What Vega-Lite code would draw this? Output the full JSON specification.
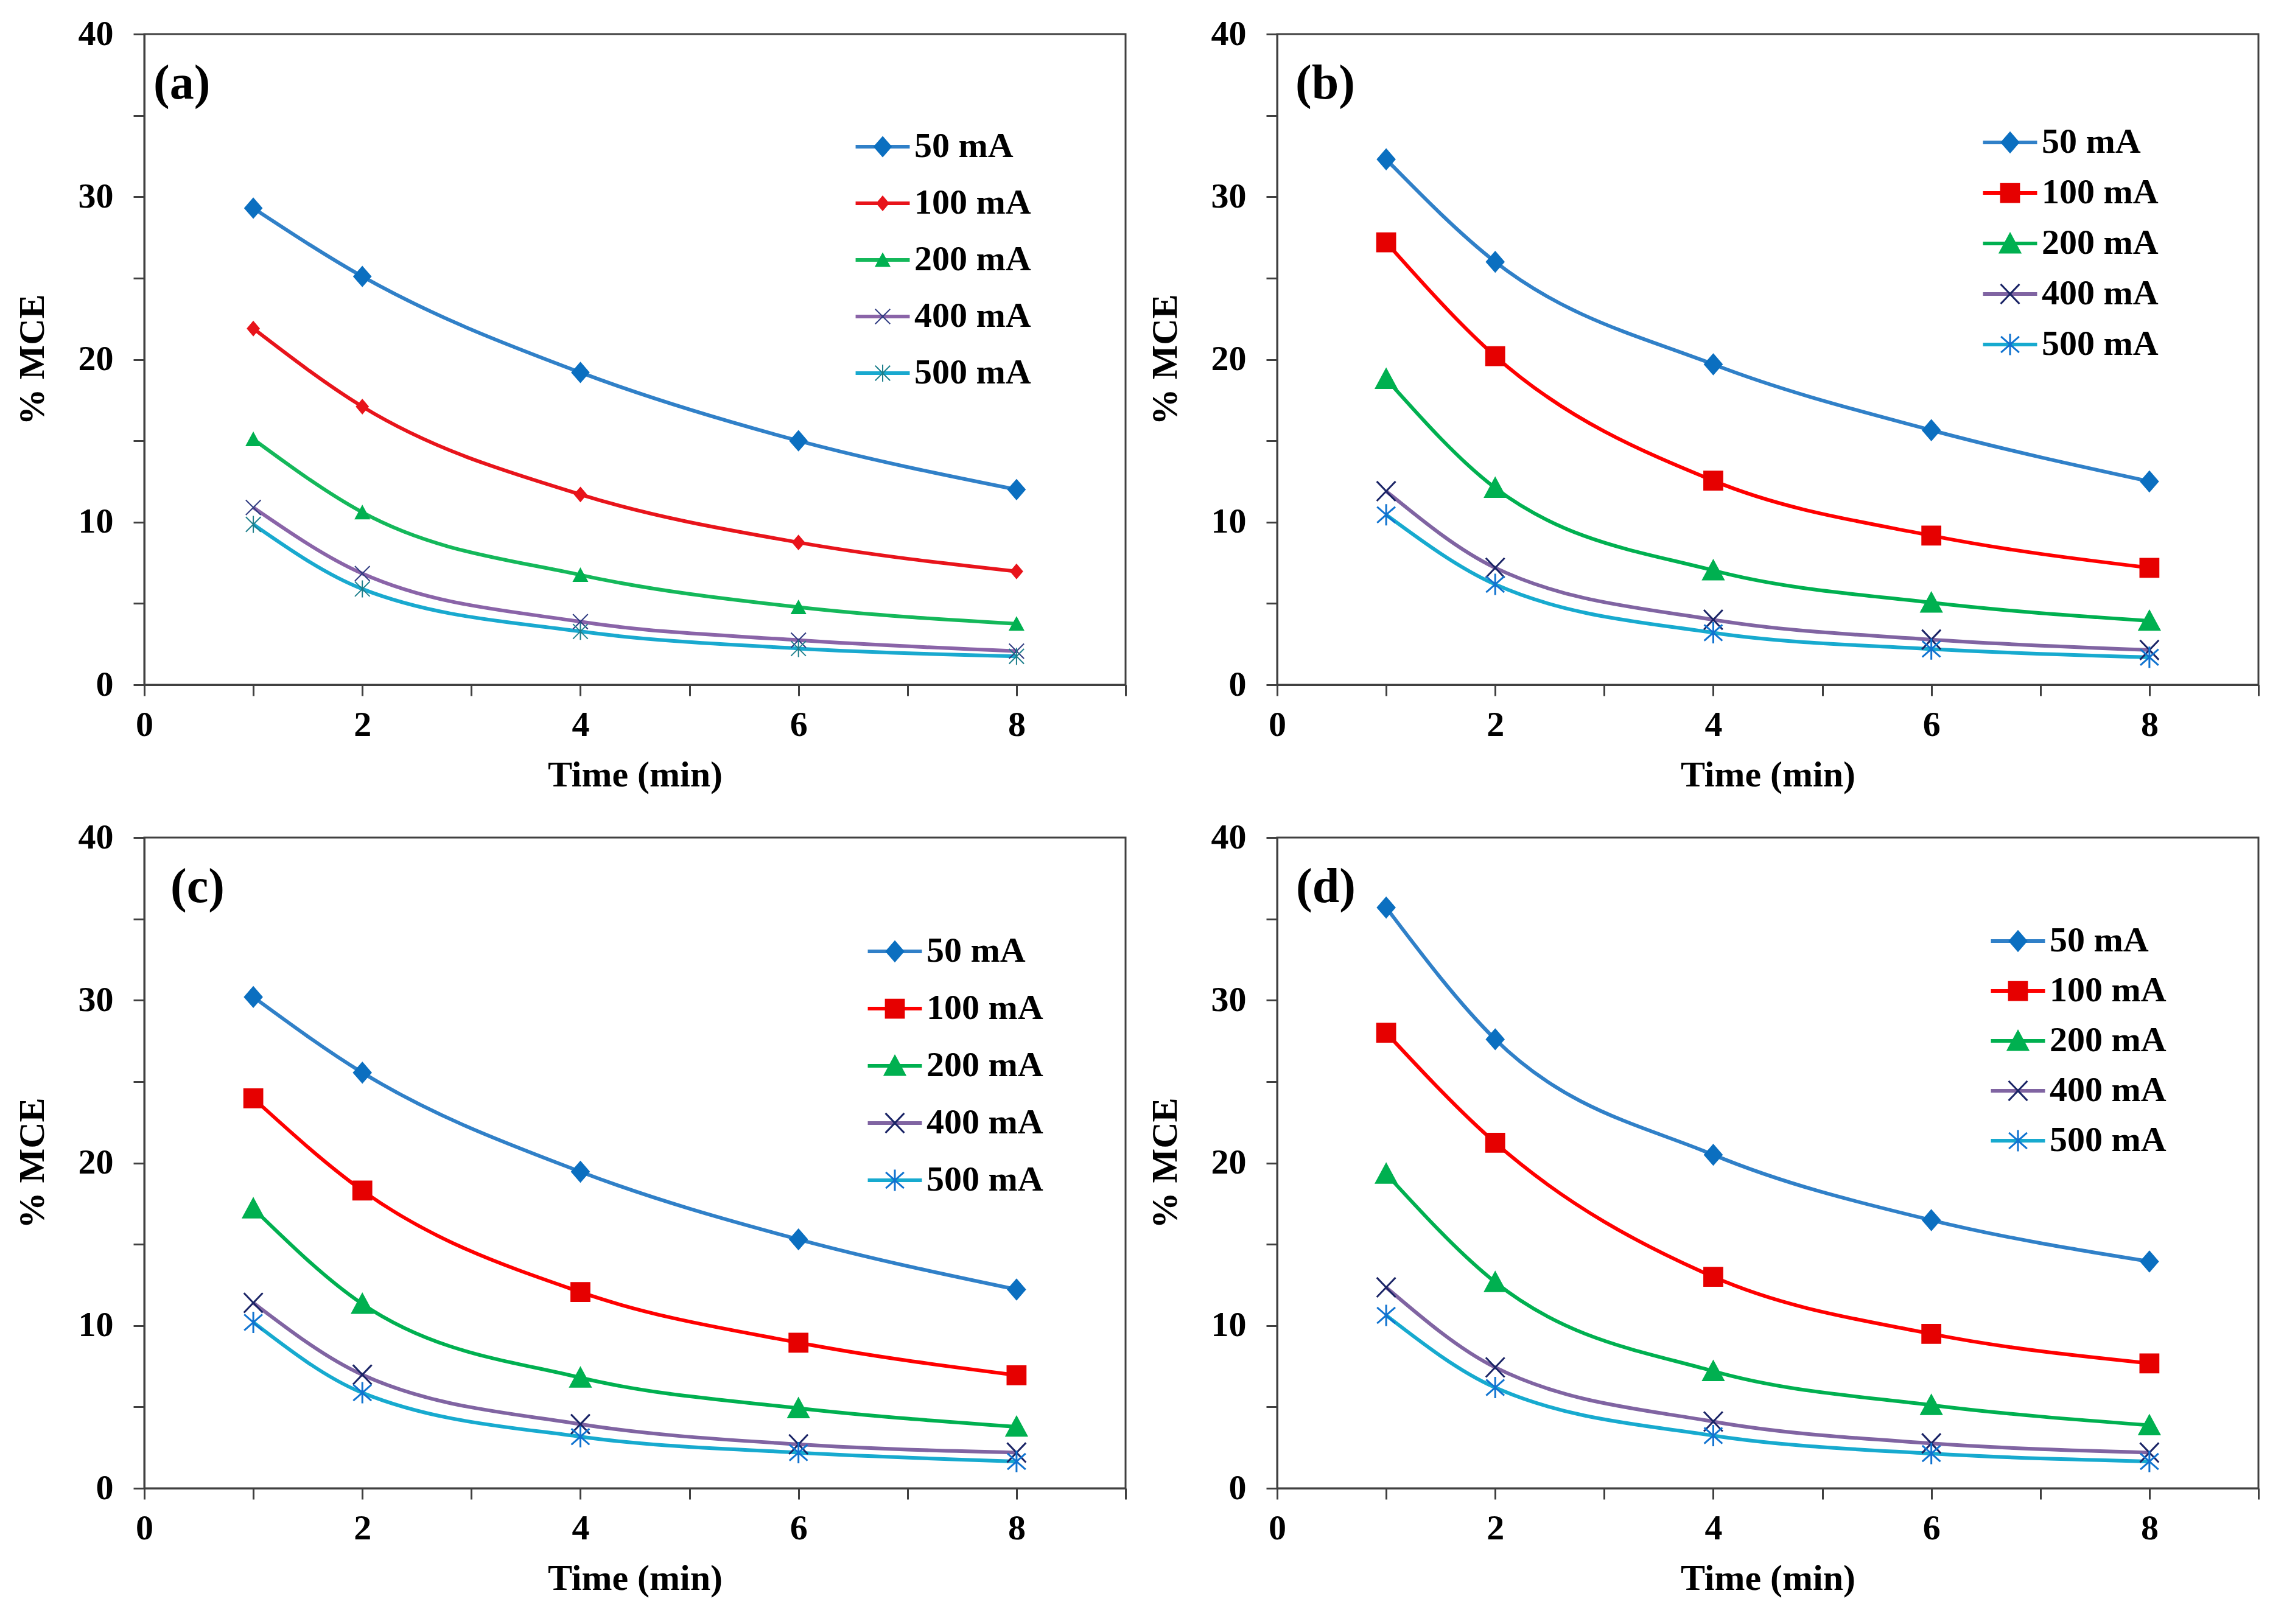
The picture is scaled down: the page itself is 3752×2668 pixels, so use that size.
{
  "$schema": "https://vega.github.io/schema/vega-lite/v6.json",
  "background": "white",
  "padding": {"left": 21, "top": 25, "right": 40, "bottom": 20},
  "columns": 2,
  "spacing": {"row": 251, "column": 249},
  "bounds": "flush",
  "datasets": {
    "a": [
      {"series": "50 mA", "time": 1, "mce": 29.3}, {"series": "50 mA", "time": 2, "mce": 25.1}, {"series": "50 mA", "time": 4, "mce": 19.2}, {"series": "50 mA", "time": 6, "mce": 15.0}, {"series": "50 mA", "time": 8, "mce": 12.0},
      {"series": "100 mA", "time": 1, "mce": 21.9}, {"series": "100 mA", "time": 2, "mce": 17.1}, {"series": "100 mA", "time": 4, "mce": 11.7}, {"series": "100 mA", "time": 6, "mce": 8.75}, {"series": "100 mA", "time": 8, "mce": 6.97},
      {"series": "200 mA", "time": 1, "mce": 15.1}, {"series": "200 mA", "time": 2, "mce": 10.6}, {"series": "200 mA", "time": 4, "mce": 6.75}, {"series": "200 mA", "time": 6, "mce": 4.77}, {"series": "200 mA", "time": 8, "mce": 3.75},
      {"series": "400 mA", "time": 1, "mce": 10.9}, {"series": "400 mA", "time": 2, "mce": 6.84}, {"series": "400 mA", "time": 4, "mce": 3.88}, {"series": "400 mA", "time": 6, "mce": 2.74}, {"series": "400 mA", "time": 8, "mce": 2.07},
      {"series": "500 mA", "time": 1, "mce": 9.86}, {"series": "500 mA", "time": 2, "mce": 5.89}, {"series": "500 mA", "time": 4, "mce": 3.28}, {"series": "500 mA", "time": 6, "mce": 2.23}, {"series": "500 mA", "time": 8, "mce": 1.75}
    ],
    "b": [
      {"series": "50 mA", "time": 1, "mce": 32.3}, {"series": "50 mA", "time": 2, "mce": 26.0}, {"series": "50 mA", "time": 4, "mce": 19.7}, {"series": "50 mA", "time": 6, "mce": 15.65}, {"series": "50 mA", "time": 8, "mce": 12.5},
      {"series": "100 mA", "time": 1, "mce": 27.2}, {"series": "100 mA", "time": 2, "mce": 20.2}, {"series": "100 mA", "time": 4, "mce": 12.55}, {"series": "100 mA", "time": 6, "mce": 9.17}, {"series": "100 mA", "time": 8, "mce": 7.19},
      {"series": "200 mA", "time": 1, "mce": 18.8}, {"series": "200 mA", "time": 2, "mce": 12.1}, {"series": "200 mA", "time": 4, "mce": 7.03}, {"series": "200 mA", "time": 6, "mce": 5.05}, {"series": "200 mA", "time": 8, "mce": 3.93},
      {"series": "400 mA", "time": 1, "mce": 11.9}, {"series": "400 mA", "time": 2, "mce": 7.19}, {"series": "400 mA", "time": 4, "mce": 4.0}, {"series": "400 mA", "time": 6, "mce": 2.78}, {"series": "400 mA", "time": 8, "mce": 2.14},
      {"series": "500 mA", "time": 1, "mce": 10.45}, {"series": "500 mA", "time": 2, "mce": 6.17}, {"series": "500 mA", "time": 4, "mce": 3.2}, {"series": "500 mA", "time": 6, "mce": 2.2}, {"series": "500 mA", "time": 8, "mce": 1.69}
    ],
    "c": [
      {"series": "50 mA", "time": 1, "mce": 30.2}, {"series": "50 mA", "time": 2, "mce": 25.55}, {"series": "50 mA", "time": 4, "mce": 19.46}, {"series": "50 mA", "time": 6, "mce": 15.3}, {"series": "50 mA", "time": 8, "mce": 12.22},
      {"series": "100 mA", "time": 1, "mce": 23.97}, {"series": "100 mA", "time": 2, "mce": 18.3}, {"series": "100 mA", "time": 4, "mce": 12.06}, {"series": "100 mA", "time": 6, "mce": 8.95}, {"series": "100 mA", "time": 8, "mce": 6.95},
      {"series": "200 mA", "time": 1, "mce": 17.2}, {"series": "200 mA", "time": 2, "mce": 11.33}, {"series": "200 mA", "time": 4, "mce": 6.8}, {"series": "200 mA", "time": 6, "mce": 4.92}, {"series": "200 mA", "time": 8, "mce": 3.78},
      {"series": "400 mA", "time": 1, "mce": 11.4}, {"series": "400 mA", "time": 2, "mce": 6.98}, {"series": "400 mA", "time": 4, "mce": 3.94}, {"series": "400 mA", "time": 6, "mce": 2.7}, {"series": "400 mA", "time": 8, "mce": 2.19},
      {"series": "500 mA", "time": 1, "mce": 10.2}, {"series": "500 mA", "time": 2, "mce": 5.87}, {"series": "500 mA", "time": 4, "mce": 3.17}, {"series": "500 mA", "time": 6, "mce": 2.19}, {"series": "500 mA", "time": 8, "mce": 1.65}
    ],
    "d": [
      {"series": "50 mA", "time": 1, "mce": 35.7}, {"series": "50 mA", "time": 2, "mce": 27.6}, {"series": "50 mA", "time": 4, "mce": 20.5}, {"series": "50 mA", "time": 6, "mce": 16.48}, {"series": "50 mA", "time": 8, "mce": 13.94},
      {"series": "100 mA", "time": 1, "mce": 28.0}, {"series": "100 mA", "time": 2, "mce": 21.24}, {"series": "100 mA", "time": 4, "mce": 13.0}, {"series": "100 mA", "time": 6, "mce": 9.49}, {"series": "100 mA", "time": 8, "mce": 7.68},
      {"series": "200 mA", "time": 1, "mce": 19.33}, {"series": "200 mA", "time": 2, "mce": 12.67}, {"series": "200 mA", "time": 4, "mce": 7.2}, {"series": "200 mA", "time": 6, "mce": 5.11}, {"series": "200 mA", "time": 8, "mce": 3.87},
      {"series": "400 mA", "time": 1, "mce": 12.35}, {"series": "400 mA", "time": 2, "mce": 7.43}, {"series": "400 mA", "time": 4, "mce": 4.1}, {"series": "400 mA", "time": 6, "mce": 2.76}, {"series": "400 mA", "time": 8, "mce": 2.19},
      {"series": "500 mA", "time": 1, "mce": 10.63}, {"series": "500 mA", "time": 2, "mce": 6.19}, {"series": "500 mA", "time": 4, "mce": 3.24}, {"series": "500 mA", "time": 6, "mce": 2.13}, {"series": "500 mA", "time": 8, "mce": 1.65}
    ]
  },
  "concat": [
    {
      "width": 1612, "height": 1069,
      "data": {"name": "a"},
      "title": {"text": "(a)", "anchor": "start", "orient": "top", "frame": "group", "offset": -152, "dx": 15, "baseline": "top", "fontSize": 80, "font": "Liberation Serif", "fontWeight": "bold", "color": "black"},
      "encoding": {
        "x": {"field": "time", "type": "quantitative", "title": "Time (min)", "scale": {"domain": [0, 9], "nice": false}, "axis": {"values": [0, 1, 2, 3, 4, 5, 6, 7, 8, 9], "labelExpr": "datum.value % 2 === 0 ? datum.label : ''"}},
        "y": {"field": "mce", "type": "quantitative", "title": "% MCE", "scale": {"domain": [0, 40], "nice": false}, "axis": {"values": [0, 5, 10, 15, 20, 25, 30, 35, 40], "labelExpr": "datum.value % 10 === 0 ? datum.label : ''"}}
      },
      "layer": [
        {
          "mark": {"type": "line", "interpolate": "monotone", "strokeWidth": 6},
          "encoding": {
            "color": {"field": "series", "type": "nominal", "scale": {"domain": ["50 mA", "100 mA", "200 mA", "400 mA", "500 mA"], "range": ["#3080C8", "#E8141B", "#14B85A", "#8A64A8", "#19A9CF"]},
              "legend": {"title": null, "orient": "none", "legendX": 1184, "legendY": 156, "padding": 0, "symbolType": "M-2.54,0H2.54", "symbolSize": 1225, "symbolStrokeWidth": 6, "labelFont": "Liberation Serif", "labelFontWeight": "bold", "labelFontSize": 58, "labelColor": "black", "labelOffset": 23, "labelLimit": 500, "rowPadding": 35}}
          }
        },
        {
          "mark": {"type": "point", "filled": true, "size": 1225, "opacity": 1, "strokeWidth": 2},
          "encoding": {
            "shape": {"field": "series", "type": "nominal", "scale": {"domain": ["50 mA", "100 mA", "200 mA", "400 mA", "500 mA"], "range": ["M-2.54,0M2.54,0M0,-0.92L0.8,0L0,0.92L-0.8,0Z", "M-2.54,0M2.54,0M0,-0.65L0.55,0L0,0.65L-0.55,0Z", "M-2.54,0M2.54,0M0,-0.6L0.65,0.6L-0.65,0.6Z", "M-2.54,0M2.54,0M-0.7,-0.7L0.7,0.7M-0.7,0.7L0.7,-0.7", "M-2.54,0M2.54,0M-0.7,-0.7L0.7,0.7M-0.7,0.7L0.7,-0.7M0,-0.8V0.8"]},
              "legend": {"title": null, "orient": "none", "legendX": 1184, "legendY": 156, "padding": 0, "symbolSize": 1225, "symbolStrokeWidth": 2, "labelFont": "Liberation Serif", "labelFontWeight": "bold", "labelFontSize": 58, "labelOpacity": 0, "labelOffset": 23, "labelLimit": 500, "rowPadding": 35}},
            "fill": {"field": "series", "type": "nominal", "scale": {"domain": ["50 mA", "100 mA", "200 mA", "400 mA", "500 mA"], "range": ["#0B6FC0", "#E8141B", "#00B050", "#2E3A80", "#1E7F8C"]},
              "legend": {"title": null, "orient": "none", "legendX": 1184, "legendY": 156, "padding": 0, "symbolSize": 1225, "symbolStrokeWidth": 2, "labelFont": "Liberation Serif", "labelFontWeight": "bold", "labelFontSize": 58, "labelOpacity": 0, "labelOffset": 23, "labelLimit": 500, "rowPadding": 35}},
            "stroke": {"field": "series", "type": "nominal", "scale": {"domain": ["50 mA", "100 mA", "200 mA", "400 mA", "500 mA"], "range": ["#0B6FC0", "#E8141B", "#00B050", "#2E3A80", "#1E7F8C"]},
              "legend": {"title": null, "orient": "none", "legendX": 1184, "legendY": 156, "padding": 0, "symbolSize": 1225, "symbolStrokeWidth": 2, "labelFont": "Liberation Serif", "labelFontWeight": "bold", "labelFontSize": 58, "labelOpacity": 0, "labelOffset": 23, "labelLimit": 500, "rowPadding": 35}}
          }
        }
      ],
      "resolve": {"legend": {"color": "independent", "shape": "independent", "fill": "independent", "stroke": "independent"}}
    },
    {
      "width": 1612, "height": 1069,
      "data": {"name": "b"},
      "title": {"text": "(b)", "anchor": "start", "orient": "top", "frame": "group", "offset": -152, "dx": 30, "baseline": "top", "fontSize": 80, "font": "Liberation Serif", "fontWeight": "bold", "color": "black"},
      "encoding": {
        "x": {"field": "time", "type": "quantitative", "title": "Time (min)", "scale": {"domain": [0, 9], "nice": false}, "axis": {"values": [0, 1, 2, 3, 4, 5, 6, 7, 8, 9], "labelExpr": "datum.value % 2 === 0 ? datum.label : ''"}},
        "y": {"field": "mce", "type": "quantitative", "title": "% MCE", "scale": {"domain": [0, 40], "nice": false}, "axis": {"values": [0, 5, 10, 15, 20, 25, 30, 35, 40], "labelExpr": "datum.value % 10 === 0 ? datum.label : ''"}}
      },
      "layer": [
        {
          "mark": {"type": "line", "interpolate": "monotone", "strokeWidth": 6},
          "encoding": {
            "color": {"field": "series", "type": "nominal", "scale": {"domain": ["50 mA", "100 mA", "200 mA", "400 mA", "500 mA"], "range": ["#3080C8", "#FF0000", "#00B050", "#8064A2", "#17AACF"]},
              "legend": {"title": null, "orient": "none", "legendX": 1175, "legendY": 149, "padding": 0, "symbolType": "M-2.54,0H2.54", "symbolSize": 1225, "symbolStrokeWidth": 6, "labelFont": "Liberation Serif", "labelFontWeight": "bold", "labelFontSize": 58, "labelColor": "black", "labelOffset": 23, "labelLimit": 500, "rowPadding": 25}}
          }
        },
        {
          "mark": {"type": "point", "filled": true, "size": 1225, "opacity": 1, "strokeWidth": 3},
          "encoding": {
            "shape": {"field": "series", "type": "nominal", "scale": {"domain": ["50 mA", "100 mA", "200 mA", "400 mA", "500 mA"], "range": ["M-2.54,0M2.54,0M0,-0.91L0.79,0L0,0.91L-0.79,0Z", "M-2.54,0M2.54,0M-0.85,-0.85H0.85V0.85H-0.85Z", "M-2.54,0M2.54,0M0,-0.91L0.95,0.85L-0.95,0.85Z", "M-2.54,0M2.54,0M-0.88,-0.92L0.88,0.92M-0.88,0.92L0.88,-0.92", "M-2.54,0M2.54,0M-0.85,-0.75L0.85,0.75M-0.85,0.75L0.85,-0.75M0,-1V1"]},
              "legend": {"title": null, "orient": "none", "legendX": 1175, "legendY": 149, "padding": 0, "symbolSize": 1225, "symbolStrokeWidth": 3, "labelFont": "Liberation Serif", "labelFontWeight": "bold", "labelFontSize": 58, "labelOpacity": 0, "labelOffset": 23, "labelLimit": 500, "rowPadding": 25}},
            "fill": {"field": "series", "type": "nominal", "scale": {"domain": ["50 mA", "100 mA", "200 mA", "400 mA", "500 mA"], "range": ["#0B6FC0", "#E60000", "#00B050", "#1A2466", "#1073D0"]},
              "legend": {"title": null, "orient": "none", "legendX": 1175, "legendY": 149, "padding": 0, "symbolSize": 1225, "symbolStrokeWidth": 3, "labelFont": "Liberation Serif", "labelFontWeight": "bold", "labelFontSize": 58, "labelOpacity": 0, "labelOffset": 23, "labelLimit": 500, "rowPadding": 25}},
            "stroke": {"field": "series", "type": "nominal", "scale": {"domain": ["50 mA", "100 mA", "200 mA", "400 mA", "500 mA"], "range": ["#0B6FC0", "#E60000", "#00B050", "#1A2466", "#1073D0"]},
              "legend": {"title": null, "orient": "none", "legendX": 1175, "legendY": 149, "padding": 0, "symbolSize": 1225, "symbolStrokeWidth": 3, "labelFont": "Liberation Serif", "labelFontWeight": "bold", "labelFontSize": 58, "labelOpacity": 0, "labelOffset": 23, "labelLimit": 500, "rowPadding": 25}}
          }
        }
      ],
      "resolve": {"legend": {"color": "independent", "shape": "independent", "fill": "independent", "stroke": "independent"}}
    },
    {
      "width": 1612, "height": 1069,
      "data": {"name": "c"},
      "title": {"text": "(c)", "anchor": "start", "orient": "top", "frame": "group", "offset": -152, "dx": 43, "baseline": "top", "fontSize": 80, "font": "Liberation Serif", "fontWeight": "bold", "color": "black"},
      "encoding": {
        "x": {"field": "time", "type": "quantitative", "title": "Time (min)", "scale": {"domain": [0, 9], "nice": false}, "axis": {"values": [0, 1, 2, 3, 4, 5, 6, 7, 8, 9], "labelExpr": "datum.value % 2 === 0 ? datum.label : ''"}},
        "y": {"field": "mce", "type": "quantitative", "title": "% MCE", "scale": {"domain": [0, 40], "nice": false}, "axis": {"values": [0, 5, 10, 15, 20, 25, 30, 35, 40], "labelExpr": "datum.value % 10 === 0 ? datum.label : ''"}}
      },
      "layer": [
        {
          "mark": {"type": "line", "interpolate": "monotone", "strokeWidth": 6},
          "encoding": {
            "color": {"field": "series", "type": "nominal", "scale": {"domain": ["50 mA", "100 mA", "200 mA", "400 mA", "500 mA"], "range": ["#3080C8", "#FF0000", "#00B050", "#8064A2", "#17AACF"]},
              "legend": {"title": null, "orient": "none", "legendX": 1204, "legendY": 158, "padding": 0, "symbolType": "M-2.54,0H2.54", "symbolSize": 1225, "symbolStrokeWidth": 6, "labelFont": "Liberation Serif", "labelFontWeight": "bold", "labelFontSize": 58, "labelColor": "black", "labelOffset": 23, "labelLimit": 500, "rowPadding": 36}}
          }
        },
        {
          "mark": {"type": "point", "filled": true, "size": 1225, "opacity": 1, "strokeWidth": 3},
          "encoding": {
            "shape": {"field": "series", "type": "nominal", "scale": {"domain": ["50 mA", "100 mA", "200 mA", "400 mA", "500 mA"], "range": ["M-2.54,0M2.54,0M0,-0.91L0.79,0L0,0.91L-0.79,0Z", "M-2.54,0M2.54,0M-0.85,-0.85H0.85V0.85H-0.85Z", "M-2.54,0M2.54,0M0,-0.91L0.95,0.85L-0.95,0.85Z", "M-2.54,0M2.54,0M-0.88,-0.92L0.88,0.92M-0.88,0.92L0.88,-0.92", "M-2.54,0M2.54,0M-0.85,-0.75L0.85,0.75M-0.85,0.75L0.85,-0.75M0,-1V1"]},
              "legend": {"title": null, "orient": "none", "legendX": 1204, "legendY": 158, "padding": 0, "symbolSize": 1225, "symbolStrokeWidth": 3, "labelFont": "Liberation Serif", "labelFontWeight": "bold", "labelFontSize": 58, "labelOpacity": 0, "labelOffset": 23, "labelLimit": 500, "rowPadding": 36}},
            "fill": {"field": "series", "type": "nominal", "scale": {"domain": ["50 mA", "100 mA", "200 mA", "400 mA", "500 mA"], "range": ["#0B6FC0", "#E60000", "#00B050", "#1A2466", "#1073D0"]},
              "legend": {"title": null, "orient": "none", "legendX": 1204, "legendY": 158, "padding": 0, "symbolSize": 1225, "symbolStrokeWidth": 3, "labelFont": "Liberation Serif", "labelFontWeight": "bold", "labelFontSize": 58, "labelOpacity": 0, "labelOffset": 23, "labelLimit": 500, "rowPadding": 36}},
            "stroke": {"field": "series", "type": "nominal", "scale": {"domain": ["50 mA", "100 mA", "200 mA", "400 mA", "500 mA"], "range": ["#0B6FC0", "#E60000", "#00B050", "#1A2466", "#1073D0"]},
              "legend": {"title": null, "orient": "none", "legendX": 1204, "legendY": 158, "padding": 0, "symbolSize": 1225, "symbolStrokeWidth": 3, "labelFont": "Liberation Serif", "labelFontWeight": "bold", "labelFontSize": 58, "labelOpacity": 0, "labelOffset": 23, "labelLimit": 500, "rowPadding": 36}}
          }
        }
      ],
      "resolve": {"legend": {"color": "independent", "shape": "independent", "fill": "independent", "stroke": "independent"}}
    },
    {
      "width": 1612, "height": 1069,
      "data": {"name": "d"},
      "title": {"text": "(d)", "anchor": "start", "orient": "top", "frame": "group", "offset": -152, "dx": 31, "baseline": "top", "fontSize": 80, "font": "Liberation Serif", "fontWeight": "bold", "color": "black"},
      "encoding": {
        "x": {"field": "time", "type": "quantitative", "title": "Time (min)", "scale": {"domain": [0, 9], "nice": false}, "axis": {"values": [0, 1, 2, 3, 4, 5, 6, 7, 8, 9], "labelExpr": "datum.value % 2 === 0 ? datum.label : ''"}},
        "y": {"field": "mce", "type": "quantitative", "title": "% MCE", "scale": {"domain": [0, 40], "nice": false}, "axis": {"values": [0, 5, 10, 15, 20, 25, 30, 35, 40], "labelExpr": "datum.value % 10 === 0 ? datum.label : ''"}}
      },
      "layer": [
        {
          "mark": {"type": "line", "interpolate": "monotone", "strokeWidth": 6},
          "encoding": {
            "color": {"field": "series", "type": "nominal", "scale": {"domain": ["50 mA", "100 mA", "200 mA", "400 mA", "500 mA"], "range": ["#3080C8", "#FF0000", "#00B050", "#8064A2", "#17AACF"]},
              "legend": {"title": null, "orient": "none", "legendX": 1188, "legendY": 141, "padding": 0, "symbolType": "M-2.54,0H2.54", "symbolSize": 1225, "symbolStrokeWidth": 6, "labelFont": "Liberation Serif", "labelFontWeight": "bold", "labelFontSize": 58, "labelColor": "black", "labelOffset": 23, "labelLimit": 500, "rowPadding": 24}}
          }
        },
        {
          "mark": {"type": "point", "filled": true, "size": 1225, "opacity": 1, "strokeWidth": 3},
          "encoding": {
            "shape": {"field": "series", "type": "nominal", "scale": {"domain": ["50 mA", "100 mA", "200 mA", "400 mA", "500 mA"], "range": ["M-2.54,0M2.54,0M0,-0.91L0.79,0L0,0.91L-0.79,0Z", "M-2.54,0M2.54,0M-0.85,-0.85H0.85V0.85H-0.85Z", "M-2.54,0M2.54,0M0,-0.91L0.95,0.85L-0.95,0.85Z", "M-2.54,0M2.54,0M-0.88,-0.92L0.88,0.92M-0.88,0.92L0.88,-0.92", "M-2.54,0M2.54,0M-0.85,-0.75L0.85,0.75M-0.85,0.75L0.85,-0.75M0,-1V1"]},
              "legend": {"title": null, "orient": "none", "legendX": 1188, "legendY": 141, "padding": 0, "symbolSize": 1225, "symbolStrokeWidth": 3, "labelFont": "Liberation Serif", "labelFontWeight": "bold", "labelFontSize": 58, "labelOpacity": 0, "labelOffset": 23, "labelLimit": 500, "rowPadding": 24}},
            "fill": {"field": "series", "type": "nominal", "scale": {"domain": ["50 mA", "100 mA", "200 mA", "400 mA", "500 mA"], "range": ["#0B6FC0", "#E60000", "#00B050", "#1A2466", "#1073D0"]},
              "legend": {"title": null, "orient": "none", "legendX": 1188, "legendY": 141, "padding": 0, "symbolSize": 1225, "symbolStrokeWidth": 3, "labelFont": "Liberation Serif", "labelFontWeight": "bold", "labelFontSize": 58, "labelOpacity": 0, "labelOffset": 23, "labelLimit": 500, "rowPadding": 24}},
            "stroke": {"field": "series", "type": "nominal", "scale": {"domain": ["50 mA", "100 mA", "200 mA", "400 mA", "500 mA"], "range": ["#0B6FC0", "#E60000", "#00B050", "#1A2466", "#1073D0"]},
              "legend": {"title": null, "orient": "none", "legendX": 1188, "legendY": 141, "padding": 0, "symbolSize": 1225, "symbolStrokeWidth": 3, "labelFont": "Liberation Serif", "labelFontWeight": "bold", "labelFontSize": 58, "labelOpacity": 0, "labelOffset": 23, "labelLimit": 500, "rowPadding": 24}}
          }
        }
      ],
      "resolve": {"legend": {"color": "independent", "shape": "independent", "fill": "independent", "stroke": "independent"}}
    }
  ],
  "resolve": {
    "scale": {"color": "independent", "shape": "independent", "fill": "independent", "stroke": "independent"},
    "legend": {"color": "independent", "shape": "independent", "fill": "independent", "stroke": "independent"}
  },
  "config": {
    "view": {"stroke": "#404040", "strokeWidth": 3},
    "axis": {"grid": false, "labelFont": "Liberation Serif", "labelFontWeight": "bold", "labelFontSize": 58, "labelColor": "black", "titleFont": "Liberation Serif", "titleFontWeight": "bold", "titleFontSize": 60, "titleColor": "black", "domainColor": "#404040", "domainWidth": 3, "tickColor": "#404040", "tickWidth": 3, "tickSize": 18, "labelOverlap": false, "labelFlush": false, "labelBound": false},
    "axisX": {"labelPadding": 19, "titlePadding": 24},
    "axisY": {"labelPadding": 33, "titlePadding": 44}
  }
}
